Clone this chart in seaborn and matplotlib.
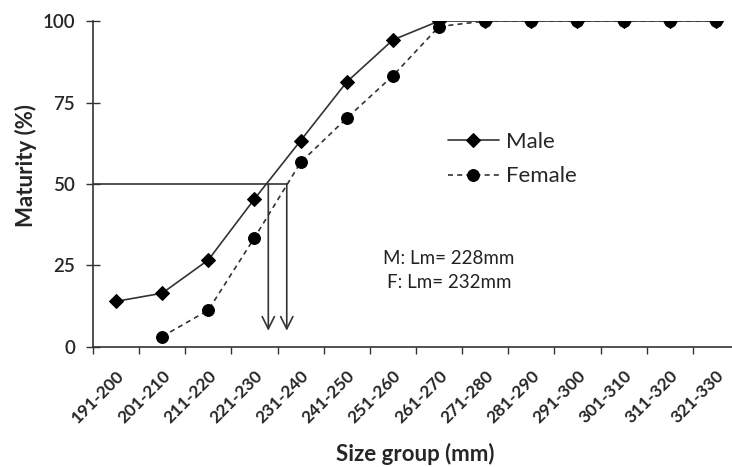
import numpy as np
import pandas as pd
import matplotlib
matplotlib.use("Agg")
import matplotlib.pyplot as plt
import seaborn as sns

size_groups = ["191-200", "201-210", "211-220", "221-230", "231-240", "241-250",
               "251-260", "261-270", "271-280", "281-290", "291-300", "301-310",
               "311-320", "321-330"]
male = [14, 16.5, 26.7, 45.4, 63.3, 81.3, 94.2, 100, 100, 100, 100, 100, 100, 100]
female = [np.nan, 3.2, 11.3, 33.5, 56.6, 70.2, 83.2, 98.3, 100, 100, 100, 100, 100, 100]
lm_male = 228
lm_female = 232
y_ticks = [0, 25, 50, 75, 100]

sns.set_theme(style="white")
plt.rcParams["font.family"] = ["Lato", "DejaVu Sans"]

fig = plt.figure(figsize=(7.32, 4.67), dpi=100)
ax = fig.add_axes([0.127, 0.257, 0.8825, 0.698])

pos = np.arange(len(size_groups))
df = pd.DataFrame({"pos": pos, "Male": male, "Female": female})

line_col = "#333333"
sns.lineplot(data=df, x="pos", y="Male", ax=ax, color=line_col, linewidth=1.2,
             marker="D", markersize=7, markerfacecolor="black",
             markeredgecolor="black", label="Male")
sns.lineplot(data=df.dropna(), x="pos", y="Female", ax=ax, color=line_col,
             linewidth=1.2, linestyle=(0, (3, 2.5)), marker="o", markersize=8.5,
             markerfacecolor="black", markeredgecolor="black", label="Female")

# size at 50% maturity, placed on the categorical scale
def lm_pos(lm):
    return (lm - 195) / 10.0

xm, xf = lm_pos(lm_male), lm_pos(lm_female)
ax.plot([-0.5, xf], [50, 50], color=line_col, linewidth=1.2)
for xv in (xm, xf):
    ax.annotate("", xy=(xv, 5), xytext=(xv, 50),
                arrowprops=dict(arrowstyle="->", color=line_col, lw=1.2,
                                mutation_scale=22, shrinkA=0, shrinkB=0))

ax.text(0.551, 0.236, f"M: Lm= {lm_male}mm\nF: Lm= {lm_female}mm",
        transform=ax.transAxes, ha="center", va="center", fontsize=13.5,
        linespacing=1.5, color="#222222")

ax.set_xlim(-0.5, len(size_groups) - 0.5)
ax.set_ylim(0, 100)
ax.set_xticks(pos)
ax.set_xticklabels(size_groups, rotation=45, ha="right", rotation_mode="anchor",
                   fontsize=12.5, fontweight="bold")
ax.set_xticks(np.arange(-0.5, len(size_groups), 1), minor=True)
ax.tick_params(axis="x", which="major", length=0, pad=15)
ax.tick_params(axis="x", which="minor", length=5, width=1, direction="out",
               color=line_col, bottom=True)
ax.set_yticks(y_ticks)
ax.set_yticklabels([str(v) for v in y_ticks], fontsize=13.5, fontweight="semibold")
ax.tick_params(axis="y", length=10, width=1, direction="inout", color=line_col,
               left=True, pad=8)

for s in ("top", "right"):
    ax.spines[s].set_visible(False)
for s in ("left", "bottom"):
    ax.spines[s].set_color(line_col)
    ax.spines[s].set_linewidth(1.2)

ax.set_xlabel("Size group (mm)", fontsize=16, fontweight="bold")
ax.set_ylabel("Maturity (%)", fontsize=16, fontweight="bold")
ax.xaxis.set_label_coords(0.499, -0.295)
ax.yaxis.set_label_coords(-0.087, 0.558)

leg = ax.legend(loc="upper left", bbox_to_anchor=(0.5495, 0.66), frameon=False,
                fontsize=16, handlelength=2.3, handletextpad=0.3,
                labelspacing=0.65, borderpad=0, borderaxespad=0)

fig.savefig("out.png", dpi=100)
